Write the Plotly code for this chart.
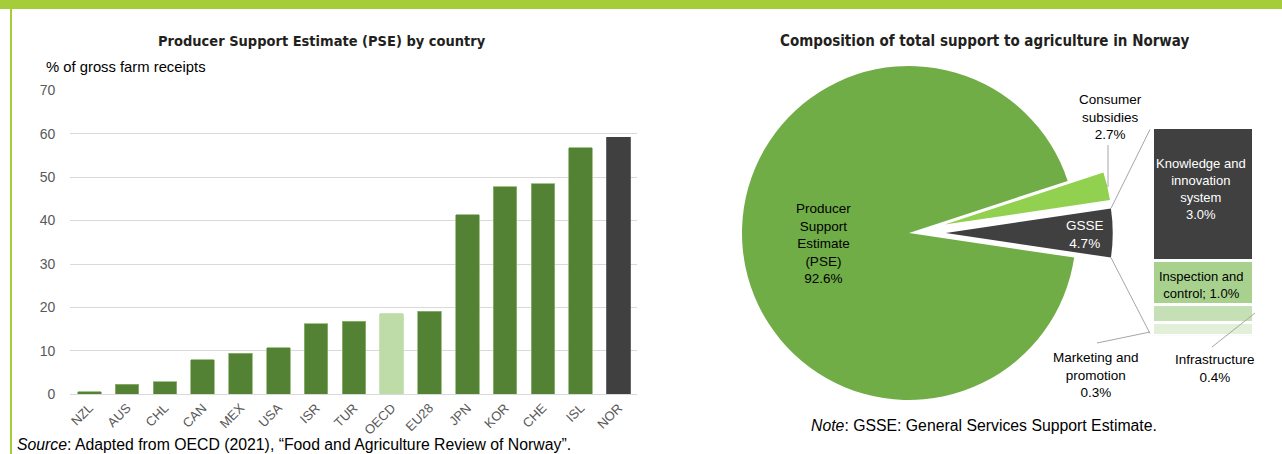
import math
import plotly.graph_objects as go

# ---------------- data ----------------
countries = ["NZL", "AUS", "CHL", "CAN", "MEX", "USA", "ISR", "TUR", "OECD",
             "EU28", "JPN", "KOR", "CHE", "ISL", "NOR"]
pse_values = [0.6, 2.3, 2.9, 8.0, 9.5, 10.7, 16.3, 16.8, 18.6, 19.1,
              41.3, 47.8, 48.5, 56.8, 59.2]

pie_labels = ["GSSE", "Producer Support Estimate (PSE)", "Consumer subsidies"]
pie_values = [4.7, 92.6, 2.7]

gsse_parts = ["Marketing and promotion", "Infrastructure",
              "Inspection and control", "Knowledge and innovation system"]
gsse_values = [0.3, 0.4, 1.0, 3.0]

# ---------------- styling ----------------
W, H = 1282, 454
DARK_GREEN = "#548235"
LIGHT_GREEN = "#bddca8"
DARK = "#404040"
BAND = "#a5cd39"
ARIAL = "Liberation Sans, Arial, sans-serif"
TITLE_FONT = "DejaVu Sans Condensed, sans-serif"


def px(x):
    return x / W


def py(y):
    return 1 - y / H


bar_colors = []
line_colors = []
for c in countries:
    if c == "OECD":
        bar_colors.append(LIGHT_GREEN)
        line_colors.append(LIGHT_GREEN)
    elif c == "NOR":
        bar_colors.append(DARK)
        line_colors.append(DARK)
    else:
        bar_colors.append(DARK_GREEN)
        line_colors.append("#8fb573")

fig = go.Figure()

fig.add_trace(go.Bar(
    x=countries, y=pse_values, marker=dict(color=bar_colors,
                                           line=dict(color=line_colors, width=0.8)),
    xaxis="x", yaxis="y", showlegend=False, hoverinfo="x+y"))

# pie geometry (pixels)
PIE_CX, PIE_CY, PIE_R, PULL = 909, 233, 167, 0.22
half = PIE_R * (1 + PULL)
pie_dom_x = [px(PIE_CX - half), px(PIE_CX + half)]
pie_dom_y = [py(PIE_CY + half), py(PIE_CY - half)]
total = sum(pie_values)
gsse_share = pie_values[0] / total
rotation = 90 - gsse_share * 360 / 2

fig.add_trace(go.Pie(
    labels=pie_labels, values=pie_values, sort=False, direction="clockwise",
    rotation=rotation, pull=[PULL, 0, PULL],
    marker=dict(colors=[DARK, "#70ad47", "#92d050"], line=dict(width=0)),
    textinfo="none", domain=dict(x=pie_dom_x, y=pie_dom_y), showlegend=False,
    automargin=False))

# stacked bar of GSSE composition
stack_colors = ["#e2f0d9", "#c5e0b4", "#a9d18e", DARK]
for name, val, col in zip(gsse_parts, gsse_values, stack_colors):
    fig.add_trace(go.Bar(
        x=["GSSE"], y=[val], name=name, width=1.0,
        marker=dict(color=col, line=dict(color="white", width=3)),
        xaxis="x2", yaxis="y2", showlegend=False))

BAR_L, BAR_R, BAR_T, BAR_B = 1152, 1253, 127.5, 335.5

fig.update_layout(
    width=W, height=H, margin=dict(l=0, r=0, t=0, b=0, pad=0),
    paper_bgcolor="white", plot_bgcolor="white",
    barmode="stack", bargap=0.38,
    xaxis=dict(domain=[px(70.4), px(637.4)], type="category", showline=True,
               linecolor="#d9d9d9", linewidth=1, ticks="", tickangle=-45,
               tickfont=dict(family=ARIAL, size=13, color="#595959"),
               showgrid=False, zeroline=False, anchor="y", automargin=False),
    yaxis=dict(domain=[py(394.3), py(90.3)], range=[0, 70], dtick=10,
               gridcolor="#d9d9d9", gridwidth=1, zeroline=False, showline=False,
               tickfont=dict(family=ARIAL, size=14, color="#595959"),
               ticklabelstandoff=14, anchor="x", automargin=False),
    xaxis2=dict(domain=[px(BAR_L), px(BAR_R)], type="category", visible=False,
                anchor="y2", range=[-0.5, 0.5], automargin=False),
    yaxis2=dict(domain=[py(BAR_B), py(BAR_T)], range=[0, sum(gsse_values)],
                visible=False, anchor="x2", automargin=False),
)

shapes = []
# top band and left border
shapes.append(dict(type="rect", xref="paper", yref="paper", x0=0, x1=1,
                   y0=py(9), y1=1, fillcolor=BAND, line=dict(width=0), layer="above"))
shapes.append(dict(type="line", xref="paper", yref="paper", x0=px(11), x1=px(11),
                   y0=0, y1=py(9), line=dict(color=BAND, width=2)))

# connector lines from the GSSE slice to the stacked bar
half_ang = math.radians(gsse_share * 360 / 2)
off_x = PIE_CX + PULL * PIE_R
top_corner = (off_x + PIE_R * math.cos(half_ang), PIE_CY - PIE_R * math.sin(half_ang))
bot_corner = (off_x + PIE_R * math.cos(half_ang), PIE_CY + PIE_R * math.sin(half_ang))
LINE_C = "#a6a6a6"
for (x0, y0), (x1, y1) in [(top_corner, (BAR_L - 2, BAR_T + 2)),
                           (bot_corner, (BAR_L - 2, BAR_B - 2)),
                           ((1108, 187), (1108, 145)),
                           ((1097, 343), (1150, 332)),
                           ((1212, 347), (1255, 313))]:
    shapes.append(dict(type="line", xref="paper", yref="paper",
                       x0=px(x0), y0=py(y0), x1=px(x1), y1=py(y1),
                       line=dict(color=LINE_C, width=1)))
fig.update_layout(shapes=shapes)

ann = []


def add_text(x, y, text, size=13, color="#000000", family=ARIAL, xanchor="center",
             yanchor="middle", align="center"):
    ann.append(dict(x=px(x), y=py(y), xref="paper", yref="paper", text=text,
                    showarrow=False, xanchor=xanchor, yanchor=yanchor, align=align,
                    font=dict(size=size, color=color, family=family)))


add_text(322, 41, "<b>Producer Support Estimate (PSE) by country</b>", size=14.5,
         color="#231f20", family=TITLE_FONT)
add_text(984, 41, "<b>Composition of total support to agriculture in Norway</b>", size=15,
         color="#231f20", family=TITLE_FONT)
add_text(44, 67, "% of gross farm receipts", size=14.8, xanchor="left")
add_text(15, 444, "<i>Source</i>: Adapted from OECD (2021), \u201cFood and Agriculture Review of Norway\u201d.",
         size=15.8, xanchor="left")
add_text(984, 425, "<i>Note</i>: GSSE: General Services Support Estimate.", size=15.8)

add_text(823, 244, "Producer<br>Support<br>Estimate<br>(PSE)<br>%.1f%%" % pie_values[1], size=13.5)
add_text(1085, 234, "GSSE<br>%.1f%%" % pie_values[0], size=13.5, color="white")
add_text(1110, 117, "Consumer<br>subsidies<br>%.1f%%" % pie_values[2], size=13.5)
add_text(1201, 189, "Knowledge and<br>innovation<br>system<br>%.1f%%" % gsse_values[3],
         size=13, color="white")
add_text(1201, 285, "Inspection and<br>control; %.1f%%" % gsse_values[2], size=13)
add_text(1096, 375, "Marketing and<br>promotion<br>%.1f%%" % gsse_values[0], size=13.5)
add_text(1215, 368, "Infrastructure<br>%.1f%%" % gsse_values[1], size=13.5)

fig.update_layout(annotations=ann)

fig.write_html("out.html", config={"displayModeBar": False},
               post_script="document.body.style.margin='0';"
                           "document.body.style.overflow='hidden';")
